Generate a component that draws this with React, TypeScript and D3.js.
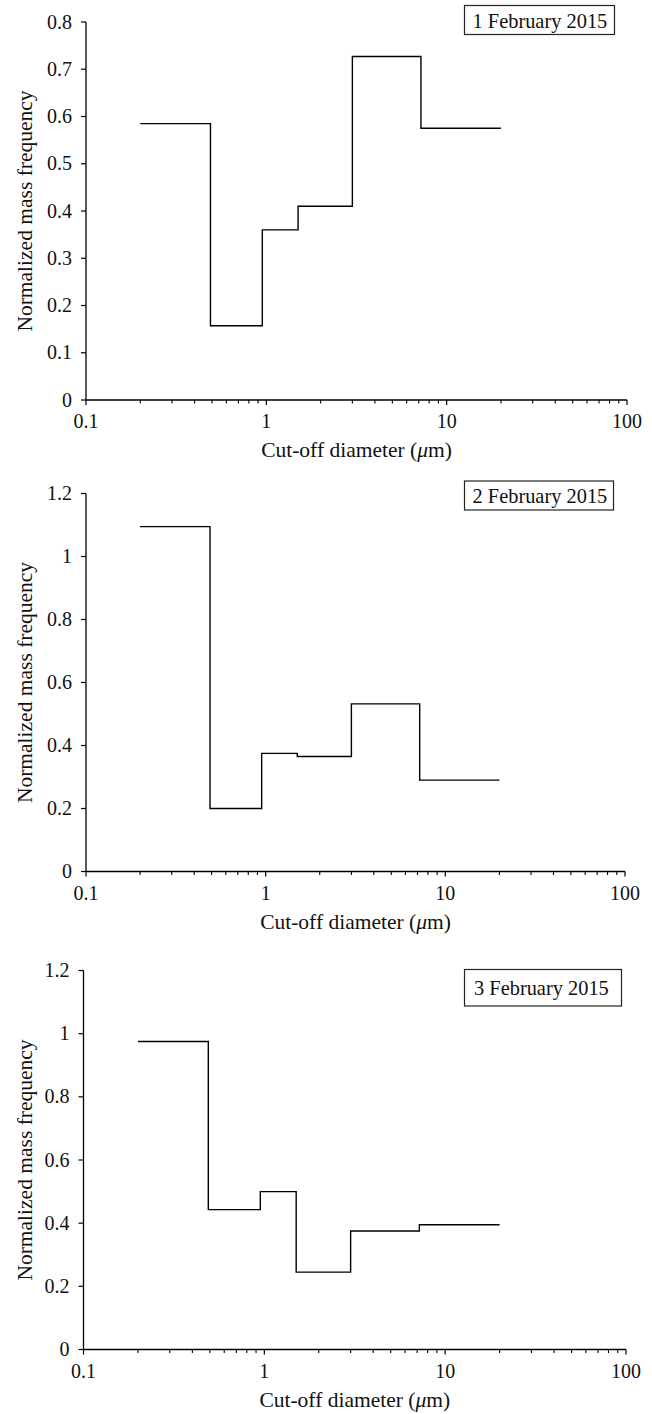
import React from "react";
import * as d3 from "d3";

// ---- data ----
const cutoffEdges = [0.2, 0.49, 0.95, 1.5, 3.0, 7.2, 20];
const feb1Values = [0.585, 0.157, 0.36, 0.41, 0.727, 0.575];
const feb2Values = [1.095, 0.2, 0.375, 0.365, 0.532, 0.29];
const feb3Values = [0.975, 0.443, 0.5, 0.245, 0.375, 0.395];
const panelLabels = ["1 February 2015", "2 February 2015", "3 February 2015"];
const xTickValues = [0.1, 1, 10, 100];
const xTickLabels = ["0.1", "1", "10", "100"];
const yTicksPanel1 = [0, 0.1, 0.2, 0.3, 0.4, 0.5, 0.6, 0.7, 0.8];
const yTickLabelsPanel1 = ["0", "0.1", "0.2", "0.3", "0.4", "0.5", "0.6", "0.7", "0.8"];
const yTicksPanel23 = [0, 0.2, 0.4, 0.6, 0.8, 1.0, 1.2];
const yTickLabelsPanel23 = ["0", "0.2", "0.4", "0.6", "0.8", "1", "1.2"];
const xTitle = "Cut-off diameter (";
const yTitle = "Normalized mass frequency";

// ---- layout ----
const FONT = "'Liberation Serif', 'Times New Roman', serif";
const panels = [
  {
    values: feb1Values, label: panelLabels[0], yTicks: yTicksPanel1, yLabels: yTickLabelsPanel1, yMax: 0.8,
    left: 86, right: 627, top: 22, bottom: 400,
    box: { x: 464.5, y: 5.5, w: 150, h: 29 }, textX: 472.5, textY: 27.5,
  },
  {
    values: feb2Values, label: panelLabels[1], yTicks: yTicksPanel23, yLabels: yTickLabelsPanel23, yMax: 1.2,
    left: 86, right: 625, top: 493.5, bottom: 871.5,
    box: { x: 464.5, y: 481, w: 149, h: 29 }, textX: 472.5, textY: 502.5,
  },
  {
    values: feb3Values, label: panelLabels[2], yTicks: yTicksPanel23, yLabels: yTickLabelsPanel23, yMax: 1.2,
    left: 83.5, right: 626, top: 970.5, bottom: 1349.5,
    box: { x: 464.5, y: 969.5, w: 157, h: 36.5 }, textX: 474, textY: 995,
  },
];

const minorTicks: number[] = [];
[0.1, 1, 10].forEach((d) => {
  for (let k = 2; k <= 9; k++) minorTicks.push(d * k);
});

function Panel({ p }: { p: (typeof panels)[number] }) {
  const x = d3.scaleLog().domain([0.1, 100]).range([p.left, p.right]);
  const y = d3.scaleLinear().domain([0, p.yMax]).range([p.bottom, p.top]);
  const pts: [number, number][] = p.values.map((v, i) => [cutoffEdges[i], v]);
  pts.push([cutoffEdges[cutoffEdges.length - 1], p.values[p.values.length - 1]]);
  const line = d3
    .line<[number, number]>()
    .x((d) => x(d[0]))
    .y((d) => y(d[1]))
    .curve(d3.curveStepAfter);
  const cx = (p.left + p.right) / 2;
  const cy = (p.top + p.bottom) / 2;
  return (
    <g>
      {/* axes */}
      <line x1={p.left} x2={p.left} y1={p.top} y2={p.bottom} stroke="#000" strokeWidth={1.3} />
      <line x1={p.left} x2={p.right} y1={p.bottom} y2={p.bottom} stroke="#000" strokeWidth={1.3} />
      {p.yTicks.map((t, i) => (
        <g key={"y" + i}>
          <line x1={p.left - 5} x2={p.left} y1={y(t)} y2={y(t)} stroke="#000" strokeWidth={1.2} />
          <text x={p.left - 14} y={y(t)} dy="0.33em" textAnchor="end" fontFamily={FONT} fontSize={20} fill="#111">
            {p.yLabels[i]}
          </text>
        </g>
      ))}
      {xTickValues.map((t, i) => (
        <g key={"x" + i}>
          <line x1={x(t)} x2={x(t)} y1={p.bottom} y2={p.bottom + 5} stroke="#000" strokeWidth={1.2} />
          <text x={x(t)} y={p.bottom + 28} textAnchor="middle" fontFamily={FONT} fontSize={20} fill="#111">
            {xTickLabels[i]}
          </text>
        </g>
      ))}
      {minorTicks.map((t, i) => (
        <line key={"m" + i} x1={x(t)} x2={x(t)} y1={p.bottom} y2={p.bottom + 3.5} stroke="#000" strokeWidth={1.1} />
      ))}
      {/* titles */}
      <text x={cx} y={p.bottom + 57} textAnchor="middle" fontFamily={FONT} fontSize={21.5} fill="#111">
        {xTitle}
        <tspan fontStyle="italic">μ</tspan>m)
      </text>
      <text
        transform={`translate(32,${cy}) rotate(-90)`}
        textAnchor="middle"
        fontFamily={FONT}
        fontSize={21.5}
        fill="#111"
      >
        {yTitle}
      </text>
      {/* data */}
      <path d={line(pts) || ""} fill="none" stroke="#000" strokeWidth={1.4} />
      {/* legend box */}
      <rect x={p.box.x} y={p.box.y} width={p.box.w} height={p.box.h} fill="#fff" stroke="#222" strokeWidth={1.2} />
      <text x={p.textX} y={p.textY} fontFamily={FONT} fontSize={20.4} fill="#111">
        {p.label}
      </text>
    </g>
  );
}

export default function App() {
  return (
    <svg
      width={652}
      height={1414}
      viewBox="0 0 652 1414"
      style={{ position: "absolute", left: 0, top: 0, background: "#fff" }}
    >
      <rect x={0} y={0} width={652} height={1414} fill="#fff" />
      {panels.map((p, i) => (
        <Panel key={i} p={p} />
      ))}
    </svg>
  );
}
